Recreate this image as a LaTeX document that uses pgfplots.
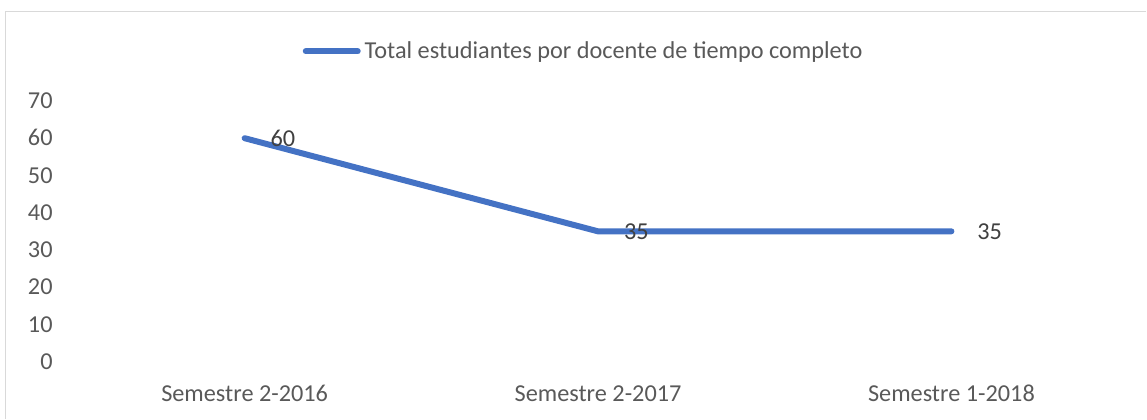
\documentclass[border=0pt]{standalone}
\usepackage{pgfplots}
\pgfplotsset{compat=1.18}
\usepackage{fontspec}
\setmainfont{Carlito}
\definecolor{lineblue}{HTML}{4472C4}
\definecolor{axgray}{HTML}{595959}
\definecolor{lblgray}{HTML}{404040}
\definecolor{bordergray}{HTML}{D9D9D9}
\begin{document}
\fontsize{12.15}{14}\selectfont
\begin{tikzpicture}
\begin{axis}[
  at={(0pt,0pt)}, anchor=south west,
  scale only axis,
  width=530.5pt, height=130.5pt,
  xmin=-0.5, xmax=2.5,
  ymin=0, ymax=70,
  axis line style={draw=none},
  major tick length=0pt,
  xtick={0,1,2},
  xticklabels={Semestre 2-2016,Semestre 2-2017,Semestre 1-2018},
  ytick={0,10,...,70},
  /pgf/number format/assume math mode=true,
  ticklabel style={font=\fontsize{12.15}{14}\selectfont, text=axgray, inner sep=0pt},
  yticklabel style={anchor=base east, xshift=-7.5pt, yshift=-3.8pt},
  xticklabel style={anchor=base, yshift=-20pt},
  grid=none,
  clip=false,
  legend style={draw=none, fill=none, at={(0.2215,1.19)}, anchor=west, inner sep=0pt, outer sep=0pt,
    font=\fontsize{12.15}{14}\selectfont, text=axgray, legend cell align=left},
  legend image code/.code={\draw[#1, line cap=round] (0pt,0pt) -- (26pt,0pt);},
  every node near coord/.append style={anchor=west, xshift=11.5pt, inner sep=0pt, text=lblgray, font=\fontsize{12.15}{14}\selectfont},
]
\addplot[color=lineblue, line width=3pt, line cap=round, line join=round, mark=none,
  nodes near coords, point meta=explicit symbolic]
  coordinates {(0,60)[60] (1,35)[35] (2,35)[35]};
\addlegendentry{Total estudiantes por docente de tiempo completo}
\end{axis}
\path (-34pt,-28.5pt) rectangle (539.5pt,181pt);
\draw[bordergray, line width=0.9pt] (-31.25pt,-28.5pt) -- (-31.25pt,175.25pt) -- (539.5pt,175.25pt);
\end{tikzpicture}
\end{document}
